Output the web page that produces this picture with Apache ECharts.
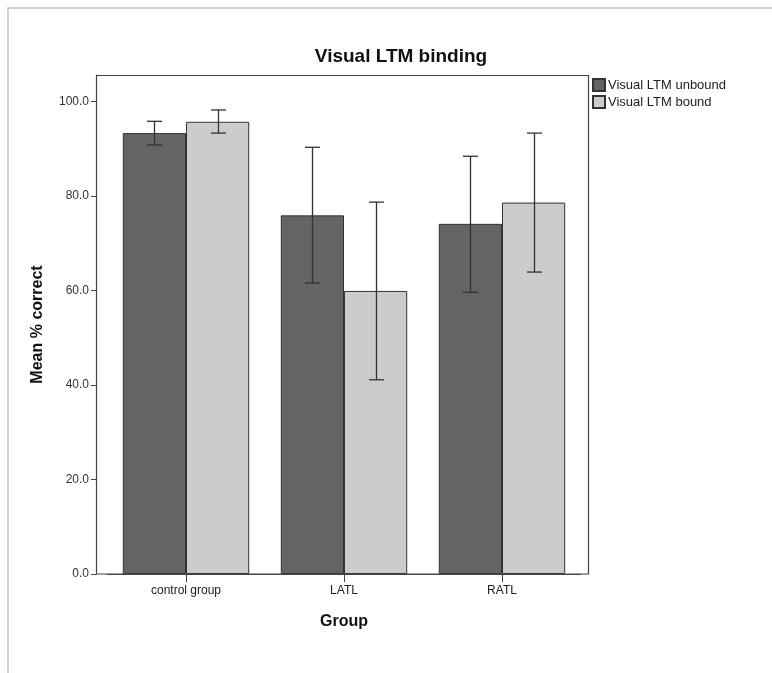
<!DOCTYPE html>
<html><head><meta charset="utf-8">
<script src="https://cdn.jsdelivr.net/npm/echarts@6/dist/echarts.min.js"></script>
<style>html,body{margin:0;padding:0;background:#fff}#c{width:772px;height:673px}</style>
</head><body><div id="c"></div>
<script>
const categories = ['control group', 'LATL', 'RATL'];
const seriesNames = ['Visual LTM unbound', 'Visual LTM bound'];
const unboundMean = [93.3, 75.9, 74.1];
const unboundLow  = [90.8, 61.6, 59.6];
const unboundHigh = [95.8, 90.3, 88.4];
const boundMean   = [95.7, 59.9, 78.6];
const boundLow    = [93.3, 41.1, 63.9];
const boundHigh   = [98.2, 78.7, 93.3];
const yTicks = [0, 20, 40, 60, 80, 100];

const FONT = 'Liberation Sans, Arial, sans-serif';
const chart = echarts.init(document.getElementById('c'), null, {renderer: 'canvas'});

function errRender(sign) {
  return function (params, api) {
    const i = api.value(0);
    const lo = api.coord([i, api.value(1)]);
    const hi = api.coord([i, api.value(2)]);
    const band = api.size([1, 0])[0];
    const x = Math.round(lo[0] + sign * band * 0.2) + 0.5;
    const cap = 7.5;
    const st = {stroke: '#333', lineWidth: 1.3};
    return {type: 'group', children: [
      {type: 'line', shape: {x1: x, y1: hi[1], x2: x, y2: lo[1]}, style: st},
      {type: 'line', shape: {x1: x - cap, y1: hi[1], x2: x + cap, y2: hi[1]}, style: st},
      {type: 'line', shape: {x1: x - cap, y1: lo[1], x2: x + cap, y2: lo[1]}, style: st}
    ]};
  };
}

const option = {
  animation: false,
  backgroundColor: '#fff',
  textStyle: {fontFamily: FONT},
  title: {
    text: 'Visual LTM binding', left: 396, top: 42, textAlign: 'center',
    textStyle: {fontFamily: FONT, fontSize: 19, fontWeight: 'bold', color: '#111'}
  },
  legend: {
    data: seriesNames, orient: 'vertical', left: 592, top: 78, itemGap: 3, padding: 0,
    itemWidth: 12, itemHeight: 12, icon: 'rect',
    textStyle: {fontFamily: FONT, fontSize: 13, color: '#222', padding: [0, 0, 0, -2]}
  },
  graphic: [
    {type: 'rect', shape: {x: 8, y: 8, width: 800, height: 700}, style: {fill: 'none', stroke: '#d2d2d2', lineWidth: 2}, silent: true, z: -10},
    {type: 'rect', shape: {x: 96.5, y: 75.5, width: 492, height: 498.5}, style: {fill: 'none', stroke: '#444', lineWidth: 1.2}, silent: true, z: 100}
  ],
  grid: {left: 107, right: 191, top: 75, bottom: 99},
  xAxis: {
    type: 'category', data: categories,
    axisLine: {show: true, lineStyle: {color: '#444'}},
    axisTick: {show: true, alignWithLabel: true, length: 8, lineStyle: {color: '#444'}},
    axisLabel: {fontFamily: FONT, fontSize: 12, color: '#222', margin: 11},
    name: 'Group', nameLocation: 'middle', nameGap: 40,
    nameTextStyle: {fontFamily: FONT, fontSize: 16, fontWeight: 'bold', color: '#111'}
  },
  yAxis: {
    type: 'value', min: 0, max: 105.6, offset: 11,
    axisLine: {show: true, lineStyle: {color: '#444'}},
    axisTick: {show: true, length: 5, customValues: yTicks, lineStyle: {color: '#444'}},
    axisLabel: {customValues: yTicks, formatter: v => Number(v).toFixed(1), fontFamily: FONT, fontSize: 12, color: '#333', margin: 7},
    splitLine: {show: false},
    name: 'Mean % correct', nameLocation: 'middle', nameGap: 50,
    nameTextStyle: {fontFamily: FONT, fontSize: 16, fontWeight: 'bold', color: '#111'}
  },
  series: [
    {name: seriesNames[0], type: 'bar', data: unboundMean, barGap: '0%', barCategoryGap: '20%',
     itemStyle: {color: '#646464', borderColor: '#333', borderWidth: 1}},
    {name: seriesNames[1], type: 'bar', data: boundMean, barGap: '0%', barCategoryGap: '20%',
     itemStyle: {color: '#cccccc', borderColor: '#333', borderWidth: 1}},
    {name: 'err0', type: 'custom', z: 5, renderItem: errRender(-1),
     encode: {x: 0, y: [1, 2]},
     data: categories.map((c, i) => [i, unboundLow[i], unboundHigh[i]])},
    {name: 'err1', type: 'custom', z: 5, renderItem: errRender(1),
     encode: {x: 0, y: [1, 2]},
     data: categories.map((c, i) => [i, boundLow[i], boundHigh[i]])}
  ]
};
chart.setOption(option);
</script>
</body></html>
